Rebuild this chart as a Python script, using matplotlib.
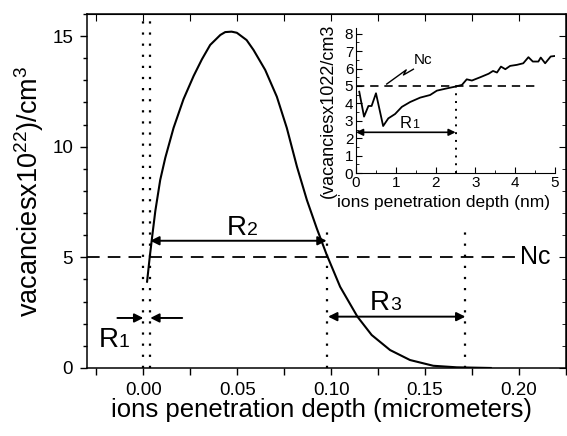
import matplotlib
matplotlib.use('Agg')
import matplotlib.pyplot as plt
from matplotlib.ticker import MultipleLocator

plt.rcParams['font.family'] = ['Liberation Sans', 'DejaVu Sans']
plt.rcParams['mathtext.fontset'] = 'custom'
plt.rcParams['mathtext.rm'] = 'Liberation Sans'

# ─── Data ────────────────────────────────────────────────────────────────────

# main profile: depth (micrometers) vs vacancies x1e22 / cm3
depth_um = [0.0020, 0.0034, 0.0048, 0.0064, 0.0090, 0.0117, 0.0161, 0.0214,
            0.0268, 0.0312, 0.0356, 0.0410, 0.0436, 0.0470, 0.0498, 0.0550,
            0.0587, 0.0649, 0.0711, 0.0764, 0.0818, 0.0871, 0.0924, 0.0975,
            0.1048, 0.1140, 0.1216, 0.1314, 0.1420, 0.1544, 0.1669, 0.1850]
vacancies = [3.90, 5.00, 6.00, 7.10, 8.50, 9.50, 10.85, 12.15,
             13.20, 13.95, 14.60, 15.05, 15.18, 15.20, 15.15, 14.82,
             14.37, 13.47, 12.26, 10.85, 9.10, 7.59, 6.30, 5.15,
             3.67, 2.32, 1.49, 0.81, 0.36, 0.10, 0.03, 0.00]

# inset: first nanometres
depth_nm = [0.08, 0.20, 0.31, 0.39, 0.50, 0.68, 0.81, 0.98, 1.15, 1.36,
            1.61, 1.86, 2.03, 2.28, 2.49, 2.66, 2.78, 2.91, 3.12, 3.33,
            3.44, 3.54, 3.64, 3.75, 3.87, 4.04, 4.20, 4.33, 4.44, 4.58,
            4.64, 4.75, 4.89, 5.00]
vac_nm = [4.67, 3.24, 3.85, 3.85, 4.58, 2.70, 3.14, 3.39, 3.80, 4.08,
          4.33, 4.48, 4.73, 4.86, 4.96, 5.06, 5.38, 5.31, 5.50, 5.70,
          5.86, 5.77, 6.11, 5.96, 6.15, 6.21, 6.30, 6.65, 6.40, 6.40,
          6.63, 6.30, 6.69, 6.72]

NC = 5.0
R1_EDGES = [0.0, 0.0037]          # micrometers
R2_SPAN = [0.0037, 0.0976]
R3_SPAN = [0.0984, 0.1715]
R1_NM = 2.5

XTICKS = [0.00, 0.05, 0.10, 0.15, 0.20]
YTICKS = [0, 5, 10, 15]

# ─── Figure ──────────────────────────────────────────────────────────────────

fig = plt.figure(figsize=(5.67, 4.36), dpi=100)
ax = fig.add_axes([0.1534, 0.156, 0.8446, 0.812])

ax.plot(depth_um, vacancies, color='black', lw=1.5)
ax.set_xlim(-0.03, 0.225)
ax.set_ylim(0, 16)

# Nc level
ax.plot([-0.03, 0.198], [NC, NC], color='black', lw=1.3, dashes=(7, 4.5))
ax.text(0.2005, NC, 'Nc', fontsize=18, ha='left', va='center')

# dotted markers
dot = dict(color='black', lw=1.6, dashes=(1, 4))
for xv in R1_EDGES:
    ax.plot([xv, xv], [0, 16], **dot)
for xv in [R3_SPAN[0] - 0.0005, R3_SPAN[1]]:
    ax.plot([xv, xv], [0, 6.5], **dot)

arrow = dict(arrowstyle='<|-|>', color='black', lw=1.4,
             mutation_scale=13, shrinkA=0, shrinkB=0)
ax.annotate('', xy=(R2_SPAN[1], 5.75), xytext=(R2_SPAN[0], 5.75), arrowprops=arrow)
ax.annotate('', xy=(R3_SPAN[1], 2.32), xytext=(R3_SPAN[0], 2.32), arrowprops=arrow)
one = dict(arrowstyle='-|>', color='black', lw=1.4, mutation_scale=13,
           shrinkA=0, shrinkB=0)
ax.annotate('', xy=(R1_EDGES[0], 2.26), xytext=(-0.0138, 2.26), arrowprops=one)
ax.annotate('', xy=(R1_EDGES[1], 2.26), xytext=(0.0207, 2.26), arrowprops=one)


def rlabel(a, x, y, digit, big, small):
    a.text(x, y, 'R', fontsize=big, ha='right', va='baseline')
    a.text(x, y, digit, fontsize=small, ha='left', va='baseline')


rlabel(ax, 0.0553, 6.0, '2', 20, 14)
rlabel(ax, 0.1314, 2.62, '3', 20, 14)
rlabel(ax, -0.0133, 0.95, '1', 20, 14)

ax.xaxis.set_minor_locator(MultipleLocator(0.025))
ax.yaxis.set_minor_locator(MultipleLocator(1))
ax.set_xticks(XTICKS)
ax.set_xticklabels([f'{v:.2f}' for v in XTICKS])
ax.set_yticks(YTICKS)
ax.tick_params(which='major', direction='out', length=5, width=1,
               labelsize=13.5, pad=5)
ax.tick_params(axis='x', which='minor', direction='out', length=5, width=1)
ax.tick_params(axis='y', which='minor', direction='out', length=3, width=1)
for s in ax.spines.values():
    s.set_linewidth(1.1)

top = ax.secondary_xaxis('top')
top.xaxis.set_major_locator(MultipleLocator(0.025))
top.tick_params(direction='in', length=5, labeltop=False)
right = ax.secondary_yaxis('right')
right.yaxis.set_major_locator(MultipleLocator(5))
right.yaxis.set_minor_locator(MultipleLocator(1))
right.tick_params(which='major', direction='in', length=5, labelright=False)
right.tick_params(which='minor', direction='in', length=3)

ax.set_xlabel('ions penetration depth (micrometers)', fontsize=18.5)
ax.xaxis.set_label_coords(0.49, -0.086)
ax.set_ylabel('vacanciesx10$^{\\mathregular{22}}$)/cm$^{\\mathregular{3}}$',
              fontsize=19.5)
ax.yaxis.set_label_coords(-0.085, 0.5)

# ─── Inset ───────────────────────────────────────────────────────────────────

ins = fig.add_axes([0.628, 0.603, 0.351, 0.333])
ins.plot(depth_nm, vac_nm, color='black', lw=1.3)
ins.plot([0, 4.6], [NC, NC], color='black', lw=1.2, dashes=(5, 3.5))
ins.plot([R1_NM, R1_NM], [0, NC], color='black', lw=1.4, dashes=(1, 3))
ins.annotate('', xy=(R1_NM, 2.34), xytext=(0, 2.34),
             arrowprops=dict(arrowstyle='<|-|>', color='black', lw=1.2,
                             mutation_scale=10, shrinkA=0, shrinkB=0))
rlabel(ins, 1.40, 2.57, '1', 12, 9)
ins.plot([0.77, 1.26, 1.19, 1.44], [5.11, 5.92, 5.63, 5.96], color='black', lw=1.0)
ins.text(1.45, 6.5, 'Nc', fontsize=11, ha='left', va='center')

ins.set_xlim(0, 5)
ins.set_ylim(0, 8.33)
ins.spines['top'].set_visible(False)
ins.spines['right'].set_visible(False)
ins.xaxis.set_major_locator(MultipleLocator(1))
ins.xaxis.set_minor_locator(MultipleLocator(0.5))
ins.yaxis.set_major_locator(MultipleLocator(1))
ins.yaxis.set_minor_locator(MultipleLocator(0.5))
ins.tick_params(which='major', direction='in', length=4, labelsize=11, pad=2)
ins.tick_params(which='minor', direction='in', length=2)
ins.set_xlabel('ions penetration depth (nm)', fontsize=12.5)
ins.xaxis.set_label_coords(0.44, -0.15)
ins.set_ylabel('(vacanciesx1022/cm3', fontsize=13)
ins.yaxis.set_label_coords(-0.095, 0.43)

fig.savefig('out.png', dpi=100)
